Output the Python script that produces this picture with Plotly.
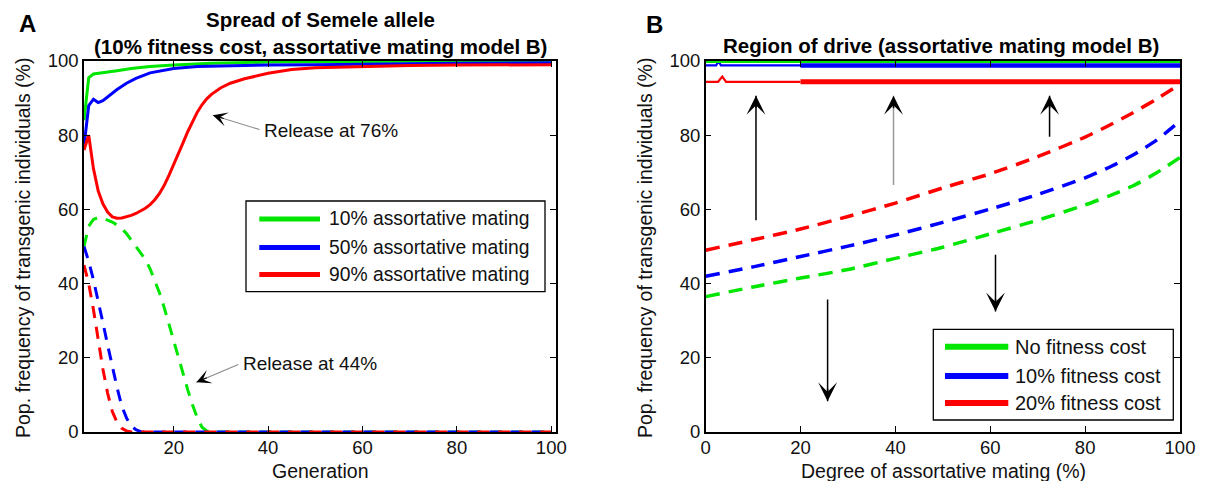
import plotly.graph_objects as go

VW, VH = 1205, 489          # browser window
BODY = 8                    # default page margin around the figure
W, H = VW - 2 * BODY, VH - 2 * BODY
FONT = "Liberation Sans, Arial, sans-serif"
GREEN, BLUE, RED = "#00e600", "#0000ff", "#ff0000"

# ---------------- Panel A data (generation vs frequency %) ----------------
gen_green_solid = [1, 2, 3, 5, 8, 11, 15, 20, 28, 40, 60, 80, 100]
green_solid = [84, 95.5, 96.5, 96.8, 97.4, 98, 98.5, 98.9, 99.4, 99.7, 99.9, 100, 100]

gen_blue_solid = [1, 2, 3, 4, 5, 6, 7, 8, 10, 12, 15, 18, 20, 25, 30, 40, 50, 60, 80, 100]
blue_solid = [77, 88, 89.7, 88.8, 89.3, 90.3, 91.3, 92.3, 94, 95.3, 96.8, 97.6, 98, 98.5,
              98.7, 98.9, 99, 99.2, 99.4, 99.5]

gen_red_solid = list(range(1, 31)) + [32, 35, 40, 45, 50, 60, 70, 80, 90, 100]
red_solid = [76, 80, 71, 65, 61.5, 59.3, 58, 57.6, 57.7, 58,
             58.4, 58.9, 59.5, 60.3, 61.3, 62.6, 64.3, 66.5, 69.2, 72,
             75, 78, 81, 83.8, 86.2, 88.2, 89.8, 91, 92, 92.8,
             94, 95.2, 96.7, 97.7, 98.2, 98.6, 98.8, 98.9, 99, 99]

gen_green_dash = list(range(1, 29)) + [100]
green_dash = [50, 55.5, 57.3, 57.8, 57.6, 57.2, 56.6, 55.8, 54.8, 53.5,
              51.8, 50, 48.5, 46.5, 44, 41, 37.5, 33.5, 29, 24.5,
              20, 15.5, 11.3, 7.3, 3.8, 1.3, 0.3, 0, 0]

gen_blue_dash = list(range(1, 15)) + [100]
blue_dash = [50, 46, 41, 35.5, 29.5, 23.5, 17.5, 12, 7, 3.8, 1.6, 0.6, 0.1, 0, 0]

gen_red_dash = list(range(1, 12)) + [100]
red_dash = [45, 40, 33, 25, 17, 10.5, 5.5, 2.6, 1, 0.3, 0, 0]

legend_a = ["10% assortative mating", "50% assortative mating", "90% assortative mating"]

# ---------------- Panel B data (degree of assortative mating %) ----------------
deg = [0, 10, 20, 30, 40, 50, 60, 70, 80, 85, 90, 95, 100]
red_thresh = [49, 51.8, 54.7, 58.1, 61.7, 65.8, 69.6, 74.2, 79.5, 82.6, 86, 89.7, 93.7]
blue_thresh = [42, 44.5, 47.3, 50.1, 53.1, 56.5, 60.1, 64, 68.5, 71.3, 74.6, 78.6, 83.8]
green_thresh = [36.5, 39.1, 41.5, 43.8, 46.8, 49.8, 53.4, 57.1, 61.2, 63.6, 66.3, 69.8, 74]

deg_green_top = [0, 100]
green_top = [100, 100]
deg_blue_top_a = [0, 2.2, 2.7, 3.2, 20]
blue_top_a = [98.8, 98.8, 100, 98.8, 98.8]
deg_blue_top_b = [20, 100]
blue_top_b = [98.8, 98.8]
deg_red_top_a = [0, 2.6, 3.5, 4.3, 20]
red_top_a = [94.4, 94.4, 95.8, 94.4, 94.4]
deg_red_top_b = [20, 100]
red_top_b = [94.4, 94.4]

legend_b = ["No fitness cost", "10% fitness cost", "20% fitness cost"]

ticks_a_x = [20, 40, 60, 80, 100]
ticks_y = [0, 20, 40, 60, 80, 100]
ticks_b_x = [0, 20, 40, 60, 80, 100]


def px(x):
    """window pixel x -> paper fraction"""
    return (x - BODY) / W


def py(y):
    """window pixel y -> paper fraction"""
    return 1 - (y - BODY) / H


fig = go.Figure()

# Panel A traces
dashA = "12px,9px"
fig.add_trace(go.Scatter(x=gen_green_dash, y=green_dash, mode="lines",
                         line=dict(color=GREEN, width=3, dash=dashA), xaxis="x", yaxis="y"))
fig.add_trace(go.Scatter(x=gen_blue_dash, y=blue_dash, mode="lines",
                         line=dict(color=BLUE, width=3, dash=dashA), xaxis="x", yaxis="y"))
fig.add_trace(go.Scatter(x=gen_red_dash, y=red_dash, mode="lines",
                         line=dict(color=RED, width=3, dash=dashA), xaxis="x", yaxis="y"))
fig.add_trace(go.Scatter(x=gen_green_solid, y=green_solid, mode="lines",
                         line=dict(color=GREEN, width=3), xaxis="x", yaxis="y"))
fig.add_trace(go.Scatter(x=gen_blue_solid, y=blue_solid, mode="lines",
                         line=dict(color=BLUE, width=3), xaxis="x", yaxis="y"))
fig.add_trace(go.Scatter(x=gen_red_solid, y=red_solid, mode="lines",
                         line=dict(color=RED, width=3), xaxis="x", yaxis="y"))

# Panel B traces
dashB = "14px,9px"
fig.add_trace(go.Scatter(x=deg, y=green_thresh, mode="lines",
                         line=dict(color=GREEN, width=3.5, dash=dashB, shape="spline", smoothing=0.6),
                         xaxis="x2", yaxis="y2"))
fig.add_trace(go.Scatter(x=deg, y=blue_thresh, mode="lines",
                         line=dict(color=BLUE, width=3.5, dash=dashB, shape="spline", smoothing=0.6),
                         xaxis="x2", yaxis="y2"))
fig.add_trace(go.Scatter(x=deg, y=red_thresh, mode="lines",
                         line=dict(color=RED, width=3.5, dash=dashB, shape="spline", smoothing=0.6),
                         xaxis="x2", yaxis="y2"))
fig.add_trace(go.Scatter(x=deg_red_top_a, y=red_top_a, mode="lines",
                         line=dict(color=RED, width=2.2), xaxis="x2", yaxis="y2"))
fig.add_trace(go.Scatter(x=deg_red_top_b, y=red_top_b, mode="lines",
                         line=dict(color=RED, width=5), xaxis="x2", yaxis="y2"))
fig.add_trace(go.Scatter(x=deg_blue_top_a, y=blue_top_a, mode="lines",
                         line=dict(color=BLUE, width=2.2), xaxis="x2", yaxis="y2"))
fig.add_trace(go.Scatter(x=deg_blue_top_b, y=blue_top_b, mode="lines",
                         line=dict(color=BLUE, width=4.5), xaxis="x2", yaxis="y2"))
fig.add_trace(go.Scatter(x=deg_green_top, y=green_top, mode="lines",
                         line=dict(color=GREEN, width=4), xaxis="x2", yaxis="y2"))

axis_common = dict(showline=True, linecolor="black", linewidth=1.5, mirror="ticks",
                   ticks="inside", ticklen=6, tickwidth=1.3, tickcolor="black",
                   showgrid=False, zeroline=False, automargin=False,
                   tickfont=dict(family=FONT, size=18.5, color="#111"))

yA = [py(432), py(61)]
fig.update_layout(
    template="none",
    width=W, height=H, margin=dict(l=0, r=0, t=0, b=0, pad=0, autoexpand=False),
    paper_bgcolor="white", plot_bgcolor="white", showlegend=False,
    xaxis=dict(domain=[px(84), px(556)], range=[1, 101], tickvals=ticks_a_x, anchor="y",
               ticklabelstandoff=-2, **axis_common),
    yaxis=dict(domain=yA, range=[0, 100], tickvals=ticks_y, anchor="x", **axis_common),
    xaxis2=dict(domain=[px(705.7), px(1180)], range=[0, 100], tickvals=ticks_b_x, anchor="y2",
                ticklabelstandoff=-2, **axis_common),
    yaxis2=dict(domain=yA, range=[0, 100], tickvals=ticks_y, anchor="x2", **axis_common),
)

ann = []
shapes = []
txt = dict(family=FONT, size=19, color="#111")
axt = dict(family=FONT, size=19.5, color="#111")
bold = dict(family=FONT, size=20.5, color="black")
letter = dict(family=FONT, size=24, color="black")

# titles & panel letters
ann += [
    dict(x=px(27), y=py(23), xref="paper", yref="paper", text="<b>A</b>", showarrow=False,
         font=letter, xanchor="center", yanchor="middle"),
    dict(x=px(654), y=py(24), xref="paper", yref="paper", text="<b>B</b>", showarrow=False,
         font=letter, xanchor="center", yanchor="middle"),
    dict(x=px(320), y=py(20), xref="paper", yref="paper", text="<b>Spread of Semele allele</b>",
         showarrow=False, font=bold, xanchor="center", yanchor="middle"),
    dict(x=px(320), y=py(46), xref="paper", yref="paper",
         text="<b>(10% fitness cost, assortative mating model B)</b>",
         showarrow=False, font=bold, xanchor="center", yanchor="middle"),
    dict(x=px(941), y=py(45), xref="paper", yref="paper",
         text="<b>Region of drive (assortative mating model B)</b>",
         showarrow=False, font=bold, xanchor="center", yanchor="middle"),
    # axis titles
    dict(x=px(320), y=py(471), xref="paper", yref="paper", text="Generation",
         showarrow=False, font=axt, xanchor="center", yanchor="middle"),
    dict(x=px(943), y=py(471), xref="paper", yref="paper", text="Degree of assortative mating (%)",
         showarrow=False, font=axt, xanchor="center", yanchor="middle"),
    dict(x=px(23), y=py(248), xref="paper", yref="paper",
         text="Pop. frequency of transgenic individuals (%)", textangle=-90,
         showarrow=False, font=axt, xanchor="center", yanchor="middle"),
    dict(x=px(645), y=py(248), xref="paper", yref="paper",
         text="Pop. frequency of transgenic individuals (%)", textangle=-90,
         showarrow=False, font=axt, xanchor="center", yanchor="middle"),
]

# Panel A arrows: grey shaft + black barbed head
for (tx, ty, sx, sy, label) in [(28.3, 85.4, 38.5, 81.4, "Release at 76%"),
                                (24.8, 13.4, 34.0, 18.4, "Release at 44%")]:
    ann.append(dict(x=tx, y=ty, ax=sx, ay=sy, xref="x", yref="y", axref="x", ayref="y",
                    text="", showarrow=True, arrowhead=0, arrowwidth=1.1, arrowcolor="#8a8a8a"))
    dxp = (sx - tx) * 4.734
    dyp = -(sy - ty) * 3.705
    n = (dxp ** 2 + dyp ** 2) ** 0.5
    ann.append(dict(x=tx, y=ty, ax=dxp / n * 13, ay=dyp / n * 13, xref="x", yref="y",
                    text="", showarrow=True, arrowhead=3, arrowsize=2.2, arrowwidth=1.1,
                    arrowcolor="black"))
    ann.append(dict(x=sx, y=sy, xref="x", yref="y", text=label, showarrow=False,
                    font=txt, xanchor="left", yanchor="middle", xshift=1))

# Panel B arrows
for (ax_, y0, y1, col) in [(10.6, 56.7, 90.6, "black"), (39.6, 66.2, 90.6, "#9a9a9a"),
                           (72.5, 79.2, 90.6, "black"), (61.1, 48.2, 32.5, "black"),
                           (25.7, 36.1, 8.3, "black")]:
    ann.append(dict(x=ax_, y=y1, ax=ax_, ay=y0, xref="x2", yref="y2", axref="x2", ayref="y2",
                    text="", showarrow=True, arrowhead=0, arrowwidth=1.5, arrowcolor=col))
    sgn = 1 if y1 > y0 else -1
    ann.append(dict(x=ax_, y=y1, ax=0, ay=sgn * 14, xref="x2", yref="y2",
                    text="", showarrow=True, arrowhead=3, arrowsize=2.1, arrowwidth=1.5,
                    arrowcolor="black"))

# Custom legends
def legend_box(x0, x1, y0, y1, line_x0, line_x1, text_x, rows, labels, lw, size):
    shapes.append(dict(type="rect", xref="paper", yref="paper", x0=px(x0), x1=px(x1),
                       y0=py(y1), y1=py(y0), line=dict(color="black", width=1.3),
                       fillcolor="white", layer="above"))
    for ry, lab, col in zip(rows, labels, [GREEN, BLUE, RED]):
        shapes.append(dict(type="line", xref="paper", yref="paper", x0=px(line_x0), x1=px(line_x1),
                           y0=py(ry), y1=py(ry), line=dict(color=col, width=lw), layer="above"))
        ann.append(dict(x=px(text_x), y=py(ry), xref="paper", yref="paper", text=lab,
                        showarrow=False, font=dict(family=FONT, size=size, color="#111"),
                        xanchor="left", yanchor="middle"))


legend_box(246, 545, 201, 291.7, 259.3, 320, 327, [219, 247.5, 274.5], legend_a, 5, 19.3)
legend_box(933.3, 1173.3, 329.3, 420, 945, 1008.3, 1013, [346.7, 376, 403], legend_b, 6, 20)

fig.update_layout(annotations=ann, shapes=shapes)
fig.write_html("out.html")
